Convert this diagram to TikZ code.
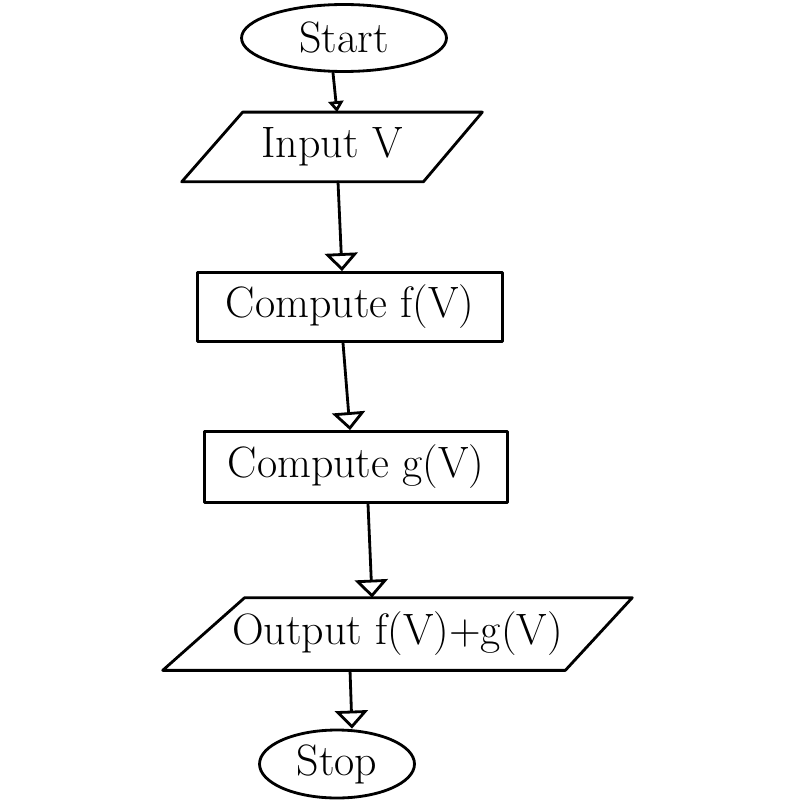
\documentclass[tikz,border=0pt]{standalone}
\usetikzlibrary{shapes.geometric,arrows.meta}
\begin{document}
\begin{tikzpicture}[x=0.02cm,y=-0.02cm,
  every node/.style={font=\fontsize{25}{29}\selectfont},
  pen/.style={line width=1.6pt, line cap=round, line join=round},
  terminal/.style={pen, draw, ellipse, inner sep=0pt},
  procbox/.style={pen, draw, rectangle, inner sep=0pt},
  iobox/.style={rectangle, inner sep=0pt},
  flow/.style={pen, -{Triangle[open, width=0.66cm, length=0.36cm, line width=1.6pt]}},
  smallflow/.style={pen, -{Triangle[open, width=0.3cm, length=0.22cm, line width=1.6pt]}}]
\useasboundingbox (0,0) rectangle (800,800);
\node[terminal, minimum width=4.1cm, minimum height=1.34cm] (start) at (344,38) {Start};
\node[iobox, minimum width=6cm, minimum height=1.38cm] (input) at (332,147) {Input V};
\draw[pen] ([xshift=1.22cm]input.north west) -- (input.north east)
  -- ([xshift=-1.18cm]input.south east) -- (input.south west) -- cycle;
\node[procbox, minimum width=6.1cm, minimum height=1.38cm] (fnode) at (350,307) {Compute f(V)};
\node[procbox, minimum width=6.06cm, minimum height=1.42cm] (gnode) at (356,467) {Compute g(V)};
\node[iobox, minimum width=9.38cm, minimum height=1.44cm] (out) at (397.5,634) {Output f(V)+g(V)};
\draw[pen] ([xshift=1.64cm]out.north west) -- (out.north east)
  -- ([xshift=-1.34cm]out.south east) -- (out.south west) -- cycle;
\node[terminal, minimum width=3.1cm, minimum height=1.36cm] (stop) at (337,764) {Stop};
\draw[smallflow] ([xshift=-0.22cm]start.south) -- ([xshift=0.1cm]input.north);
\draw[flow] ([xshift=0.12cm]input.south) -- ([xshift=-0.16cm]fnode.north);
\draw[flow] ([xshift=-0.14cm]fnode.south) -- ([xshift=-0.12cm]gnode.north);
\draw[flow] ([xshift=0.24cm]gnode.south) -- ([xshift=-0.51cm]out.north);
\draw[flow] ([xshift=-0.95cm]out.south) -- ([xshift=0.3cm]stop.north);
\end{tikzpicture}
\end{document}
